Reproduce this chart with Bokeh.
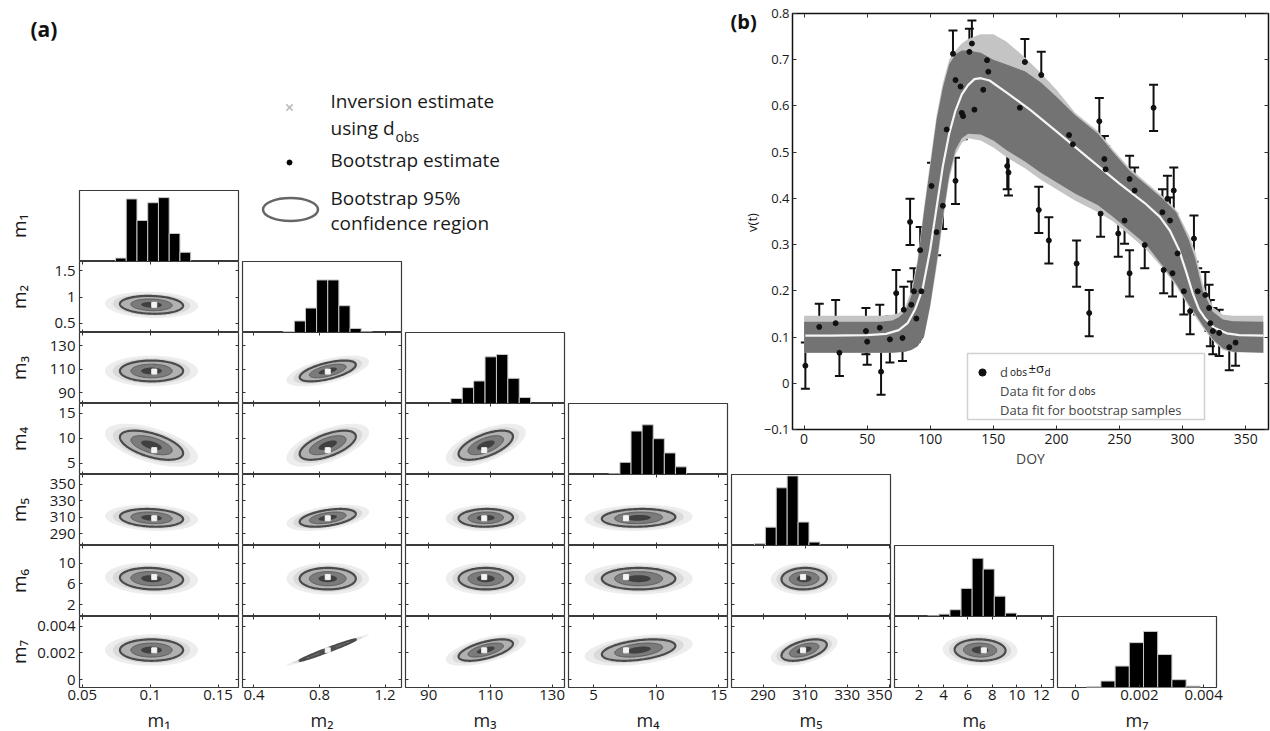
import math
import numpy as np
from bokeh.plotting import figure
from bokeh.models import (Range1d, FixedTicker, LinearAxis, Label, Whisker, TeeHead,
                          ColumnDataSource, Legend, LegendItem, BoxAnnotation)
from bokeh.layouts import row, column
from bokeh.embed import file_html
from bokeh.resources import INLINE

FONT = "Open Sans"

# ---------------- panel (a): bootstrap statistics of m1..m7 ----------------
param_labels = ["m₁", "m₂", "m₃", "m₄", "m₅", "m₆", "m₇"]
boot_mean = [0.101, 0.85, 108.5, 8.6, 309.5, 7.0, 0.00222]
boot_sd = [0.0095, 0.07, 3.6, 1.2, 4.4, 0.85, 0.00033]
inversion_estimate = [0.103, 0.85, 108.0, 7.6, 309.0, 7.3, 0.0022]
# correlation of (m_row, m_col), lower triangle, rows m2..m7
corr_rows = [
    [-0.10],
    [0.00, 0.60],
    [-0.55, 0.60, 0.60],
    [-0.15, 0.45, 0.05, 0.10],
    [-0.10, 0.00, 0.00, 0.00, 0.05],
    [0.00, 0.985, 0.60, 0.40, 0.50, -0.05],
]
hist_first_edge = [0.0745, 0.578, 97.2, 6.22, 285.9, 2.72, 0.00036]
hist_bin_width = [0.0079, 0.068, 3.69, 0.887, 5.18, 0.907, 0.000442]
hist_counts = [
    [10, 183, 120, 172, 187, 82, 27],
    [3, 34, 72, 155, 155, 79, 12, 2],
    [15, 48, 68, 141, 148, 76, 18],
    [2, 35, 125, 143, 103, 62, 22],
    [5, 54, 170, 205, 69, 10],
    [2, 7, 20, 83, 172, 140, 60, 10],
    [2, 19, 63, 132, 165, 97, 23, 4],
]
hist_peak_fraction = [0.90, 0.74, 0.69, 0.70, 0.98, 0.82, 0.79]

col_limits = [(0.048, 0.165), (0.33, 1.30), (82.5, 134.0), (3.0, 15.7),
              (275.0, 350.5), (0.0, 13.0), (-0.00055, 0.0044)]
row_limits = [None, (0.32, 1.68), (81.0, 141.0), (2.7, 17.0),
              (276.0, 362.0), (-0.3, 13.4), (-0.0006, 0.00475)]
col_ticks = [[0.05, 0.1, 0.15], [0.4, 0.8, 1.2], [90, 110, 130], [5, 10, 15],
             [290, 310, 330, 350], [2, 4, 6, 8, 10, 12], [0, 0.002, 0.004]]
col_tick_labels = [["0.05", "0.1", "0.15"], ["0.4", "0.8", "1.2"], ["90", "110", "130"],
                   ["5", "10", "15"], ["290", "310", "330", "350"],
                   ["2", "4", "6", "8", "10", "12"], ["0", "0.002", "0.004"]]
row_ticks = [[], [0.5, 1, 1.5], [90, 110, 130], [5, 10, 15], [290, 310, 330, 350],
             [2, 6, 10], [0, 0.002, 0.004]]
row_tick_labels = [[], ["0.5", "1", "1.5"], ["90", "110", "130"], ["5", "10", "15"],
                   ["290", "310", "330", "350"], ["2", "6", "10"], ["0", "0.002", "0.004"]]

# ---------------- panel (b): observations and fits ----------------
obs_doy = [1, 12, 25, 28, 49, 50, 60, 61, 68, 73, 78, 79, 84, 85, 87, 89, 92, 93,
           101, 105, 110, 113, 118, 120, 120, 124, 125, 126, 131, 133, 135, 142, 145, 146,
           161, 162, 171, 175, 186, 188, 194, 210, 213, 216, 226, 234, 235, 238, 239,
           249, 254, 258, 258, 262, 270, 277, 284, 285, 288, 290, 292, 293, 296, 301,
           306, 309, 312, 318, 321, 322, 324, 329, 337, 342]
obs_v = [0.038, 0.122, 0.130, 0.066, 0.113, 0.090, 0.120, 0.025, 0.095, 0.195, 0.098, 0.159,
         0.349, 0.170, 0.199, 0.140, 0.288, 0.199,
         0.427, 0.327, 0.384, 0.549, 0.713, 0.438, 0.656, 0.642, 0.585, 0.578, 0.717, 0.735,
         0.592, 0.635, 0.699, 0.674,
         0.470, 0.456, 0.596, 0.695, 0.375, 0.667, 0.309, 0.537, 0.517, 0.259, 0.152, 0.567,
         0.367, 0.485, 0.463,
         0.324, 0.352, 0.442, 0.238, 0.417, 0.299, 0.596, 0.370, 0.245, 0.399, 0.352, 0.238,
         0.417, 0.281, 0.199,
         0.156, 0.313, 0.199, 0.191, 0.163, 0.130, 0.113, 0.109, 0.078, 0.088]
SIGMA_D = 0.05

fit_doy = [1, 20, 50, 65, 75, 82, 88, 94, 100, 105, 110, 115, 120, 125, 130, 135, 140, 147,
           160, 180, 200, 225, 250, 270, 282, 290, 297, 303, 308, 313, 318, 325, 335, 345, 364]
fit_v = [0.103, 0.103, 0.104, 0.107, 0.115, 0.13, 0.16, 0.205, 0.29, 0.38, 0.47, 0.54, 0.59,
         0.625, 0.645, 0.658, 0.66, 0.655, 0.63, 0.59, 0.545, 0.488, 0.432, 0.39, 0.36, 0.33,
         0.29, 0.24, 0.195, 0.16, 0.14, 0.12, 0.108, 0.104, 0.103]

band_doy = [0, 60, 70, 75, 80, 85, 90, 95, 100, 105, 110, 115, 120, 125, 130, 140, 150, 160,
            175, 188, 200, 215, 233, 245, 258, 271, 284, 295, 305, 310, 316, 324, 332, 340, 364]
band_hi = [0.133, 0.133, 0.136, 0.143, 0.155, 0.19, 0.26, 0.37, 0.47, 0.57, 0.64, 0.69, 0.712,
           0.72, 0.72, 0.715, 0.70, 0.69, 0.675, 0.65, 0.62, 0.58, 0.54, 0.50, 0.46, 0.43,
           0.40, 0.37, 0.31, 0.27, 0.20, 0.155, 0.138, 0.134, 0.133]
band_lo = [0.066, 0.066, 0.066, 0.067, 0.068, 0.072, 0.08, 0.10, 0.17, 0.26, 0.36, 0.45, 0.505,
           0.53, 0.54, 0.538, 0.525, 0.505, 0.48, 0.455, 0.435, 0.41, 0.385, 0.36, 0.33, 0.30,
           0.255, 0.215, 0.17, 0.15, 0.125, 0.095, 0.075, 0.068, 0.066]
outer_hi = [0.146, 0.146, 0.148, 0.152, 0.165, 0.2, 0.27, 0.38, 0.48, 0.58, 0.65, 0.70, 0.72,
            0.735, 0.745, 0.755, 0.755, 0.74, 0.705, 0.67, 0.635, 0.585, 0.545, 0.505, 0.465,
            0.435, 0.405, 0.375, 0.32, 0.285, 0.215, 0.165, 0.148, 0.146, 0.146]
outer_lo = [0.066, 0.066, 0.066, 0.067, 0.068, 0.072, 0.08, 0.1, 0.165, 0.25, 0.35, 0.44, 0.495,
            0.52, 0.53, 0.525, 0.51, 0.49, 0.465, 0.44, 0.42, 0.395, 0.37, 0.35, 0.32, 0.29,
            0.25, 0.21, 0.165, 0.145, 0.12, 0.092, 0.072, 0.067, 0.066]
b_x_ticks = [0, 50, 100, 150, 200, 250, 300, 350]
b_x_tick_labels = ["0", "50", "100", "150", "200", "250", "300", "350"]
b_y_ticks = [-0.1, 0, 0.1, 0.2, 0.3, 0.4, 0.5, 0.6, 0.7, 0.8]
b_y_tick_labels = ["\u22120.1", "0", "0.1", "0.2", "0.3", "0.4", "0.5", "0.6", "0.7", "0.8"]

# ---------------- layout constants ----------------
STRIP_W = 30                       # column holding the rotated m labels
ROW_FRAME_H = [71, 71, 71, 71, 71, 71, 71]
ROW_TOP = [190, 261, 332, 403, 474, 545, 616]
LEFT_PAD, GAP, FRAME_W, BOTTOM_PAD = 49, 2, 159, 20
GRID_H = ROW_TOP[6] + ROW_FRAME_H[6] + BOTTOM_PAD
TOP_H = ROW_TOP[4]
TICK_FONT = "15px"
LABEL_FONT = "19px"
EDGE = "#3a3a3a"


def blank(width, height):
    p = figure(width=width, height=height, x_range=Range1d(0, width), y_range=Range1d(0, height),
               x_axis_location=None, y_axis_location=None, toolbar_location=None,
               output_backend="svg", min_border=0, outline_line_color=None,
               frame_align=False)
    p.grid.visible = False
    return p


def add_text(p, text, x, y, size, **kw):
    p.add_layout(Label(x=x, y=y, x_units="screen", y_units="screen", text=text,
                       text_font=FONT, text_font_size=size, text_baseline="middle",
                       text_color=kw.pop("color", "#1a1a1a"), level="overlay", **kw))


def make_axis(ticks, labels=None, font=TICK_FONT, standoff=3, tick_in=3):
    ax = LinearAxis(ticker=FixedTicker(ticks=list(ticks)))
    ax.major_tick_in = tick_in
    ax.major_tick_out = 0
    ax.minor_tick_in = 0
    ax.minor_tick_out = 0
    ax.axis_line_color = None
    ax.major_tick_line_color = "#333333"
    ax.major_tick_line_width = 1
    if labels is None:
        ax.major_label_text_font_size = "0px"
        ax.major_label_text_color = None
        ax.major_label_standoff = 0
    else:
        ax.major_label_overrides = {float(t): s for t, s in zip(ticks, labels)}
        ax.major_label_text_font = FONT
        ax.major_label_text_font_size = font
        ax.major_label_text_color = "#1a1a1a"
        ax.major_label_standoff = standoff
    return ax


def ellipse_xy(mx, my, sx, sy, r, k):
    cov = np.array([[sx * sx, r * sx * sy], [r * sx * sy, sy * sy]])
    vals, vecs = np.linalg.eigh(cov)
    t = np.linspace(0, 2 * np.pi, 140)
    circ = np.vstack([np.cos(t), np.sin(t)])
    pts = vecs @ (np.sqrt(np.maximum(vals, 0))[:, None] * circ) * k
    return (mx + pts[0]).tolist(), (my + pts[1]).tolist()


def corner_cell(i, j):
    first, last = (j == 0), (i == 6)
    fh = ROW_FRAME_H[i]
    right_pad = GAP + (30 if (last and j == 6) else 0)
    width = (LEFT_PAD if first else GAP) + FRAME_W + right_pad
    height = fh + (BOTTOM_PAD if last else 0)
    diag = (i == j)
    x_range = Range1d(*col_limits[j])
    if diag:
        y_range = Range1d(0, max(hist_counts[j]) / hist_peak_fraction[j])
    else:
        y_range = Range1d(*row_limits[i])
    p = figure(width=width, height=height, x_range=x_range, y_range=y_range,
               x_axis_location=None, y_axis_location=None, toolbar_location=None,
               output_backend="svg", frame_align=False,
               min_border_left=(LEFT_PAD if first else GAP), min_border_right=right_pad,
               min_border_top=0, min_border_bottom=(BOTTOM_PAD if last else 0))
    p.grid.visible = False
    p.outline_line_color = EDGE
    p.outline_line_width = 1.2
    p.background_fill_color = "white"
    p.border_fill_color = "white"

    if diag:
        counts = hist_counts[j]
        lefts = [hist_first_edge[j] + k * hist_bin_width[j] for k in range(len(counts))]
        rights = [l + hist_bin_width[j] for l in lefts]
        p.quad(left=lefts, right=rights, bottom=0, top=counts,
               fill_color="black", line_color="#c8c8c8", line_width=1)
        if last:
            p.add_layout(make_axis(col_ticks[j], col_tick_labels[j], standoff=2), "below")
    else:
        mx, my = boot_mean[j], boot_mean[i]
        sx, sy = boot_sd[j], boot_sd[i]
        r = corr_rows[i - 1][j]
        for k, fill, alpha, lc, lw in [
            (3.6, "#d8d8d8", 0.45, None, 0),
            (3.0, "#c4c4c4", 0.45, None, 0),
            (2.448, "#8f8f8f", 0.55, "#4a4a4a", 2.2),
            (1.6, "#3a3a3a", 0.45, "#5a5a5a", 1.0),
            (0.8, "#111111", 0.55, None, 0),
        ]:
            ex, ey = ellipse_xy(mx, my, sx, sy, r, k)
            p.patch(ex, ey, fill_color=fill, fill_alpha=alpha,
                    line_color=lc, line_width=lw if lc else 0)
        p.scatter([inversion_estimate[j]], [inversion_estimate[i]], marker="square",
                  size=5, fill_color="#f4f4f4", line_color="#f4f4f4")
        p.add_layout(make_axis(col_ticks[j], col_tick_labels[j] if last else None,
                               standoff=2), "below")
        p.add_layout(make_axis(col_ticks[j]), "above")
        p.add_layout(make_axis(row_ticks[i], row_tick_labels[i] if first else None,
                               standoff=4), "left")
        p.add_layout(make_axis(row_ticks[i]), "right")
    return p


cells = [[corner_cell(i, j) for j in range(i + 1)] for i in range(7)]

# strip with the rotated y labels m1..m7
ylab = blank(STRIP_W, GRID_H)
for i in range(7):
    add_text(ylab, param_labels[i], 18, GRID_H - (ROW_TOP[i] + ROW_FRAME_H[i] / 2), LABEL_FONT,
             angle=math.pi / 2, text_align="center")

# strip with the x labels m1..m7
XLAB_H = 731 - GRID_H
xlab = blank(1270, XLAB_H)
for j in range(7):
    cx = STRIP_W + LEFT_PAD + FRAME_W / 2 + j * (2 * GAP + FRAME_W)
    add_text(xlab, param_labels[j], cx, XLAB_H / 2, "18px", text_align="center")

# "(a)" tag area
FIRST_W = LEFT_PAD + FRAME_W + GAP
fig_a = blank(FIRST_W, ROW_TOP[0])
add_text(fig_a, "(a)", 0, ROW_TOP[0] - 28, "21px", text_font_style="bold", color="#111111")

# legend of panel (a)
LEG_W, LEG_H = 3 * (2 * GAP + FRAME_W), ROW_TOP[1]
leg = blank(LEG_W, LEG_H)
leg.scatter([49], [LEG_H - 107], marker="x", size=9, line_color="#bdbdbd", line_width=1.6)
leg.scatter([49], [LEG_H - 162], marker="circle", size=5, color="black")
leg.ellipse(x=[50], y=[LEG_H - 209], width=55, height=23, fill_color=None,
            line_color="#666666", line_width=2.5)
for txt, ty in [("Inversion estimate", 100), ("using d", 127), ("Bootstrap estimate", 159),
                ("Bootstrap 95%", 197), ("confidence region", 222)]:
    add_text(leg, txt, 90, LEG_H - ty, LABEL_FONT)
add_text(leg, "obs", 155, LEG_H - 136, "14px")

# ---------------- panel (b) ----------------
LEFT_BLOCK_W = STRIP_W + FIRST_W + 3 * (2 * GAP + FRAME_W)      # 729
B_STRIP_W = 31
PB_W, PB_H = 1270 - LEFT_BLOCK_W - B_STRIP_W, TOP_H
PB_BOTTOM = 45
bstrip = blank(B_STRIP_W, PB_H)
add_text(bstrip, "(b)", 1, PB_H - 21, "20px", text_font_style="bold", color="#111111")
add_text(bstrip, "v(t)", 22, PB_H - 222, "13px", angle=math.pi / 2, text_align="center",
         color="#111111")

pb = figure(width=PB_W, height=PB_H, x_range=Range1d(-9.2, 368.1), y_range=Range1d(-0.1, 0.8),
            x_axis_location=None, y_axis_location=None, toolbar_location=None,
            output_backend="svg", frame_align=False, min_border_left=30, min_border_right=2,
            min_border_top=13, min_border_bottom=PB_BOTTOM)
pb.grid.visible = False
pb.outline_line_color = "#111111"
pb.outline_line_width = 1.5
pb.varea(x=band_doy, y1=outer_lo, y2=outer_hi, fill_color="#c4c4c4")
pb.varea(x=band_doy, y1=band_lo, y2=band_hi, fill_color="#737373")
pb.line(fit_doy, fit_v, line_color="#f5f5f5", line_width=2.2)
src = ColumnDataSource(dict(doy=obs_doy, v=obs_v,
                            lo=[v - SIGMA_D for v in obs_v], hi=[v + SIGMA_D for v in obs_v]))
pb.add_layout(Whisker(source=src, base="doy", lower="lo", upper="hi", line_color="#111111",
                      line_width=2,
                      upper_head=TeeHead(size=9, line_width=2, line_color="#111111"),
                      lower_head=TeeHead(size=9, line_width=2, line_color="#111111")))
pts = pb.scatter("doy", "v", source=src, size=5, color="#111111")
fit_key = pb.line(x=[], y=[], line_color="#c8c8c8", line_width=1.5)
boot_key = pb.line(x=[], y=[], line_color="#8a8a8a", line_width=2)

bx = make_axis(b_x_ticks, b_x_tick_labels, font="14px", standoff=4, tick_in=4)
bx.axis_label = "DOY"
bx.axis_label_text_font = FONT
bx.axis_label_text_font_size = "14px"
bx.axis_label_text_font_style = "normal"
bx.axis_label_standoff = 2
pb.add_layout(bx, "below")
pb.add_layout(make_axis(b_y_ticks, b_y_tick_labels, font="13px", standoff=3, tick_in=4), "left")
pb.add_layout(make_axis(b_x_ticks, tick_in=4), "above")
pb.add_layout(make_axis(b_y_ticks, tick_in=4), "right")

# legend box of panel (b): white box drawn under a transparent legend + subscript labels
LEG_B_LEFT, LEG_B_BOTTOM, LEG_B_W, LEG_B_H = 175, 10, 237, 66
pb.add_layout(BoxAnnotation(left=LEG_B_LEFT, right=LEG_B_LEFT + LEG_B_W,
                            bottom=LEG_B_BOTTOM, top=LEG_B_BOTTOM + LEG_B_H,
                            left_units="screen", right_units="screen",
                            bottom_units="screen", top_units="screen",
                            fill_color="white", fill_alpha=1,
                            line_color="#666666", line_width=1.5, level="annotation"))
legend_b = Legend(items=[LegendItem(label="d", renderers=[pts]),
                         LegendItem(label="Data fit for d", renderers=[fit_key]),
                         LegendItem(label="Data fit for bootstrap samples", renderers=[boot_key])],
                  location=(LEG_B_LEFT, LEG_B_BOTTOM), padding=5, spacing=1, glyph_height=18,
                  glyph_width=30, label_height=18, label_standoff=3, margin=0,
                  label_text_font=FONT, label_text_font_size="13px",
                  border_line_color=None, background_fill_alpha=0)
pb.add_layout(legend_b)
for txt, lx, ly, size in [("obs", 217.5, 58, "10px"), ("\u00b1\u03c3", 236, 62, "13px"),
                          ("d", 252, 58, "10px"), ("obs", 286, 39, "10px")]:
    add_text(pb, txt, lx, ly, size, color="#111111")

# ---------------- assemble ----------------
top_left = column(
    row(column(fig_a, cells[0][0]), leg),
    row(*cells[1]),
    row(*cells[2]),
    row(*cells[3]),
)
grid_area = column(
    row(top_left, bstrip, pb),
    row(*cells[4]),
    row(*cells[5]),
    row(*cells[6]),
)
layout = column(row(ylab, grid_area), xlab)

with open("out.html", "w", encoding="utf-8") as f:
    f.write(file_html(layout, INLINE, title="Bootstrap estimates"))
